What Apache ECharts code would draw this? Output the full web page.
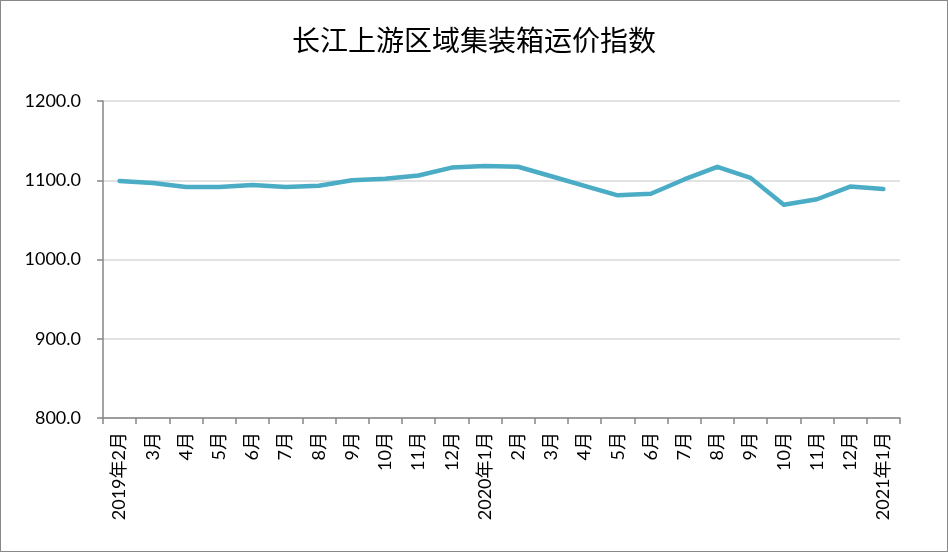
<!DOCTYPE html>
<html>
<head>
<meta charset="utf-8">
<script src="https://cdn.jsdelivr.net/npm/echarts@6/dist/echarts.min.js"></script>
<style>
  html, body { margin: 0; padding: 0; background: #fff; }
  #chart { width: 946px; height: 550px; border: 1px solid #888; }
</style>
</head>
<body>
<div id="chart"></div>
<script>
// 月份
const months = [
  "2019年2月", "3月", "4月", "5月", "6月", "7月", "8月", "9月", "10月", "11月", "12月",
  "2020年1月", "2月", "3月", "4月", "5月", "6月", "7月", "8月", "9月", "10月", "11月", "12月",
  "2021年1月"
];
// 运价指数
const indexValues = [
  1099, 1096.5, 1091.5, 1091.5, 1094, 1091.5, 1093, 1100, 1102, 1106, 1116,
  1118, 1117, 1105, 1093, 1081, 1083, 1101, 1117, 1103, 1069, 1076, 1092,
  1089
];

let myChart = echarts.init(document.getElementById("chart"));
myChart.setOption({
  animation: false,
  title: {
    text: "长江上游区域集装箱运价指数",
    left: "center",
    top: 20,
    textStyle: {
      fontFamily: "Noto Sans CJK SC",
      fontWeight: "normal",
      fontSize: 28,
      color: "#000",
    },
  },
  grid: {
    left: 102,
    right: 47,
    top: 100,
    bottom: 133,
  },
  xAxis: {
    type: "category",
    data: months,
    boundaryGap: true,
    axisLine: { lineStyle: { color: "#868686", width: 1.5 } },
    axisTick: { show: true, length: 6, lineStyle: { color: "#868686", width: 1.5 } },
    axisLabel: {
      rotate: 90,
      interval: 0,
      margin: 14,
      fontSize: 18,
      fontFamily: "Lato, Noto Sans CJK SC",
      color: "#000",
    },
  },
  yAxis: {
    type: "value",
    min: 800,
    max: 1200,
    interval: 100,
    axisLine: { show: true, lineStyle: { color: "#868686", width: 1.5 } },
    axisTick: { show: true, length: 6, lineStyle: { color: "#868686", width: 1.5 } },
    splitLine: { lineStyle: { color: "#d9d9d9", width: 1.5 } },
    axisLabel: {
      margin: 22,
      fontSize: 18,
      fontFamily: "Lato, Noto Sans CJK SC",
      color: "#000",
      formatter: (v) => v.toFixed(1),
    },
  },
  series: [
    {
      name: "运价指数",
      type: "line",
      data: indexValues,
      showSymbol: false,
      lineStyle: { color: "#4bacc6", width: 4.5, cap: "round", join: "round" },
      itemStyle: { color: "#4bacc6" },
    },
  ],
});
</script>
</body>
</html>
